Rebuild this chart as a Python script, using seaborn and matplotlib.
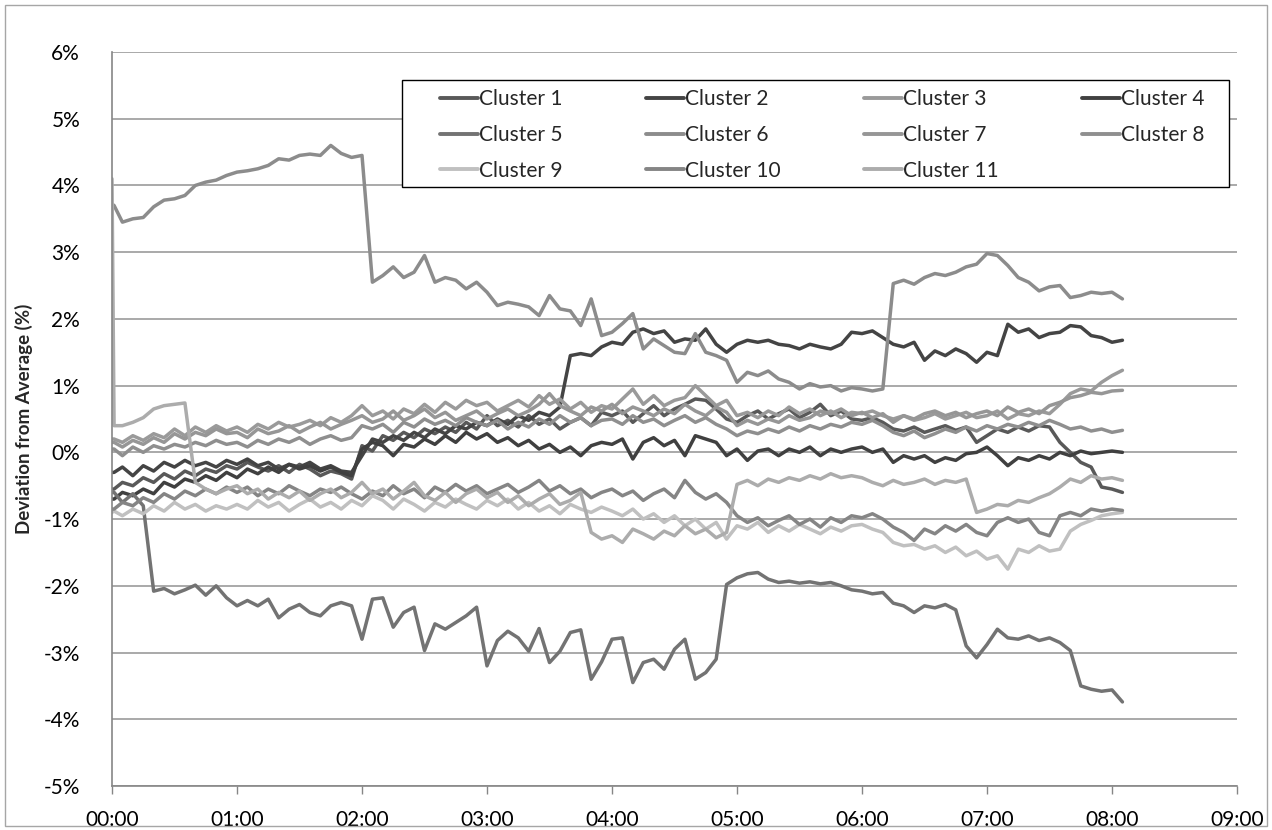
import numpy as np
import pandas as pd
import matplotlib.pyplot as plt
from matplotlib.lines import Line2D
from matplotlib.patches import Rectangle
import seaborn as sns

# sample times in minutes after 00:00 (one row per hour below)
minutes = [0, 1] + list(range(5, 490, 5))

cluster_1 = [
    -0.55, -0.55, -0.45, -0.50, -0.38, -0.45, -0.32, -0.40, -0.28, -0.35, -0.25, -0.30, -0.20,
    -0.25, -0.15, -0.22, -0.28, -0.20, -0.30, -0.18, -0.25, -0.35, -0.28, -0.32, -0.40,
    0.10, 0.02, 0.25, 0.18, 0.30, 0.22, 0.35, 0.28, 0.38, 0.30, 0.45, 0.35,
    0.55, 0.40, 0.48, 0.38, 0.55, 0.42, 0.50, 0.35, 0.45, 0.52, 0.40, 0.60,
    0.55, 0.62, 0.45, 0.58, 0.70, 0.55, 0.65, 0.72, 0.80, 0.78, 0.65, 0.50,
    0.45, 0.55, 0.62, 0.50, 0.58, 0.65, 0.52, 0.60, 0.72, 0.55, 0.62, 0.50,
    0.48, 0.52, 0.45, 0.35, 0.32, 0.38, 0.30, 0.35, 0.40, 0.33, 0.38, 0.15,
    0.25, 0.35, 0.30, 0.38, 0.32, 0.40, 0.38, 0.15, 0.00, -0.15, -0.22, -0.52,
    -0.55, -0.60,
]
cluster_2 = [
    -0.30, -0.30, -0.22, -0.35, -0.20, -0.28, -0.15, -0.22, -0.12, -0.20, -0.15, -0.22, -0.12,
    -0.18, -0.10, -0.20, -0.15, -0.25, -0.18, -0.22, -0.15, -0.25, -0.20, -0.28, -0.30,
    -0.05, 0.20, 0.15, 0.25, 0.18, 0.30, 0.22, 0.35, 0.28, 0.40, 0.35, 0.45,
    0.40, 0.50, 0.42, 0.55, 0.48, 0.60, 0.55, 0.68, 1.45, 1.48, 1.45, 1.58,
    1.65, 1.62, 1.80, 1.85, 1.78, 1.82, 1.65, 1.70, 1.68, 1.85, 1.62, 1.50,
    1.62, 1.68, 1.65, 1.68, 1.62, 1.60, 1.55, 1.62, 1.58, 1.55, 1.62, 1.80,
    1.78, 1.82, 1.72, 1.62, 1.58, 1.65, 1.38, 1.52, 1.45, 1.55, 1.48, 1.35,
    1.50, 1.45, 1.92, 1.80, 1.85, 1.72, 1.78, 1.80, 1.90, 1.88, 1.75, 1.72,
    1.65, 1.68,
]
cluster_3 = [
    0.20, 0.20, 0.15, 0.25, 0.18, 0.28, 0.22, 0.35, 0.25, 0.38, 0.30, 0.40, 0.32,
    0.38, 0.30, 0.42, 0.35, 0.45, 0.38, 0.42, 0.48, 0.40, 0.52, 0.45, 0.55,
    0.70, 0.55, 0.62, 0.50, 0.65, 0.58, 0.72, 0.60, 0.75, 0.65, 0.78, 0.70,
    0.75, 0.62, 0.70, 0.78, 0.68, 0.85, 0.72, 0.80, 0.65, 0.75, 0.60, 0.70,
    0.65, 0.80, 0.95, 0.72, 0.85, 0.70, 0.78, 0.82, 1.00, 0.85, 0.70, 0.78,
    0.55, 0.60, 0.52, 0.62, 0.55, 0.68, 0.58, 0.65, 0.55, 0.62, 0.52, 0.60,
    0.58, 0.62, 0.55, 0.50, 0.55, 0.48, 0.52, 0.58, 0.50, 0.55, 0.60, 0.52,
    0.55, 0.62, 0.50, 0.58, 0.55, 0.62, 0.58, 0.72, 0.88, 0.95, 0.92, 1.05,
    1.15, 1.23,
]
cluster_4 = [
    -0.70, -0.70, -0.60, -0.65, -0.55, -0.62, -0.45, -0.52, -0.40, -0.45, -0.35, -0.42, -0.30,
    -0.38, -0.25, -0.32, -0.22, -0.30, -0.18, -0.25, -0.20, -0.28, -0.22, -0.30, -0.35,
    0.05, 0.15, 0.10, -0.05, 0.12, 0.08, 0.20, 0.12, 0.25, 0.15, 0.30, 0.20,
    0.28, 0.15, 0.22, 0.10, 0.18, 0.05, 0.12, 0.00, 0.08, -0.05, 0.10, 0.15,
    0.12, 0.20, -0.10, 0.15, 0.22, 0.10, 0.18, -0.05, 0.25, 0.20, 0.15, -0.05,
    0.05, -0.12, 0.02, 0.05, -0.05, 0.05, 0.00, 0.08, -0.05, 0.05, 0.00, 0.05,
    0.08, 0.00, 0.05, -0.15, -0.05, -0.10, -0.05, -0.15, -0.08, -0.12, -0.02, 0.00,
    0.08, -0.05, -0.20, -0.08, -0.12, -0.05, -0.10, 0.00, -0.05, 0.02, -0.02, 0.00,
    0.02, 0.00,
]
cluster_5 = [
    -0.60, -0.60, -0.75, -0.62, -0.80, -2.08, -2.04, -2.12, -2.06, -1.99, -2.14, -2.00, -2.18,
    -2.30, -2.22, -2.30, -2.20, -2.48, -2.35, -2.28, -2.40, -2.45, -2.30, -2.25, -2.30,
    -2.80, -2.20, -2.18, -2.62, -2.40, -2.32, -2.97, -2.57, -2.65, -2.55, -2.45, -2.32,
    -3.20, -2.82, -2.68, -2.78, -2.98, -2.64, -3.15, -2.98, -2.70, -2.66, -3.40, -3.14,
    -2.80, -2.78, -3.45, -3.15, -3.10, -3.25, -2.95, -2.80, -3.40, -3.30, -3.10, -1.98,
    -1.88, -1.82, -1.80, -1.90, -1.95, -1.93, -1.96, -1.94, -1.97, -1.95, -2.00, -2.06,
    -2.08, -2.12, -2.10, -2.26, -2.30, -2.40, -2.30, -2.33, -2.28, -2.36, -2.90, -3.08,
    -2.88, -2.65, -2.78, -2.80, -2.75, -2.82, -2.78, -2.85, -2.97, -3.50, -3.55, -3.58,
    -3.56, -3.74,
]
cluster_6 = [
    3.72, 3.70, 3.45, 3.50, 3.52, 3.68, 3.78, 3.80, 3.85, 4.00, 4.05, 4.08, 4.15,
    4.20, 4.22, 4.25, 4.30, 4.40, 4.38, 4.45, 4.47, 4.45, 4.60, 4.48, 4.42,
    4.45, 2.55, 2.65, 2.78, 2.62, 2.70, 2.95, 2.55, 2.62, 2.58, 2.45, 2.55,
    2.40, 2.20, 2.25, 2.22, 2.18, 2.05, 2.35, 2.15, 2.12, 1.90, 2.30, 1.75,
    1.80, 1.93, 2.08, 1.55, 1.70, 1.60, 1.50, 1.48, 1.78, 1.50, 1.45, 1.38,
    1.05, 1.20, 1.15, 1.22, 1.10, 1.05, 0.95, 1.03, 0.98, 1.00, 0.92, 0.97,
    0.95, 0.92, 0.95, 2.53, 2.58, 2.52, 2.62, 2.68, 2.65, 2.70, 2.78, 2.82,
    2.98, 2.95, 2.80, 2.62, 2.55, 2.42, 2.48, 2.50, 2.32, 2.35, 2.40, 2.38,
    2.40, 2.30,
]
cluster_7 = [
    0.15, 0.15, 0.08, 0.18, 0.12, 0.22, 0.15, 0.28, 0.20, 0.30, 0.25, 0.35, 0.28,
    0.30, 0.22, 0.35, 0.28, 0.32, 0.40, 0.30, 0.38, 0.45, 0.35, 0.42, 0.48,
    0.55, 0.45, 0.50, 0.62, 0.48, 0.55, 0.65, 0.52, 0.60, 0.48, 0.55, 0.62,
    0.50, 0.58, 0.65, 0.55, 0.62, 0.72, 0.88, 0.70, 0.62, 0.55, 0.68, 0.62,
    0.72, 0.58, 0.68, 0.62, 0.55, 0.65, 0.58, 0.72, 0.62, 0.55, 0.68, 0.60,
    0.40, 0.48, 0.42, 0.50, 0.45, 0.55, 0.48, 0.52, 0.62, 0.58, 0.65, 0.55,
    0.60, 0.52, 0.58, 0.45, 0.55, 0.50, 0.58, 0.62, 0.55, 0.60, 0.52, 0.58,
    0.62, 0.55, 0.68, 0.60, 0.65, 0.58, 0.70, 0.75, 0.82, 0.85, 0.90, 0.88,
    0.92, 0.93,
]
cluster_8 = [
    0.05, 0.05, -0.05, 0.08, 0.00, 0.10, 0.05, 0.12, 0.08, 0.15, 0.10, 0.18, 0.12,
    0.15, 0.08, 0.18, 0.12, 0.20, 0.15, 0.22, 0.12, 0.20, 0.25, 0.18, 0.22,
    0.40, 0.35, 0.42, 0.30, 0.45, 0.38, 0.50, 0.42, 0.48, 0.40, 0.52, 0.45,
    0.40, 0.48, 0.35, 0.45, 0.38, 0.50, 0.42, 0.55, 0.45, 0.52, 0.40, 0.48,
    0.50, 0.42, 0.55, 0.45, 0.50, 0.40, 0.48, 0.55, 0.45, 0.52, 0.42, 0.35,
    0.25, 0.32, 0.28, 0.35, 0.30, 0.38, 0.32, 0.40, 0.35, 0.42, 0.38, 0.45,
    0.42, 0.48, 0.40, 0.30, 0.25, 0.32, 0.22, 0.28, 0.35, 0.30, 0.38, 0.32,
    0.40, 0.35, 0.42, 0.38, 0.45, 0.40, 0.48, 0.42, 0.35, 0.38, 0.32, 0.35,
    0.30, 0.33,
]
cluster_9 = [
    -0.90, -0.88, -0.95, -0.85, -0.92, -0.80, -0.88, -0.75, -0.85, -0.78, -0.88, -0.80, -0.85,
    -0.78, -0.85, -0.72, -0.82, -0.75, -0.88, -0.78, -0.70, -0.82, -0.75, -0.85, -0.72,
    -0.80, -0.65, -0.72, -0.85, -0.70, -0.78, -0.88, -0.75, -0.82, -0.70, -0.78, -0.85,
    -0.72, -0.80, -0.70, -0.85, -0.75, -0.88, -0.80, -0.92, -0.78, -0.85, -0.90, -0.82,
    -0.88, -0.95, -0.85, -1.00, -0.92, -1.05, -0.95, -1.10, -1.00, -1.15, -1.05, -1.30,
    -1.10, -1.15, -1.05, -1.20, -1.10, -1.18, -1.08, -1.15, -1.22, -1.12, -1.18, -1.10,
    -1.08, -1.15, -1.20, -1.35, -1.40, -1.38, -1.45, -1.40, -1.50, -1.42, -1.55, -1.48,
    -1.60, -1.55, -1.75, -1.45, -1.50, -1.40, -1.48, -1.45, -1.18, -1.08, -1.02, -0.95,
    -0.92, -0.90,
]
cluster_10 = [
    -0.85, -0.85, -0.75, -0.80, -0.68, -0.75, -0.62, -0.70, -0.58, -0.65, -0.55, -0.62, -0.52,
    -0.60, -0.52, -0.65, -0.55, -0.62, -0.50, -0.58, -0.65, -0.55, -0.60, -0.52, -0.62,
    -0.70, -0.58, -0.65, -0.50, -0.62, -0.55, -0.68, -0.52, -0.60, -0.48, -0.58, -0.50,
    -0.62, -0.55, -0.48, -0.60, -0.52, -0.42, -0.58, -0.50, -0.62, -0.55, -0.68, -0.60,
    -0.55, -0.65, -0.58, -0.72, -0.62, -0.55, -0.68, -0.42, -0.60, -0.70, -0.62, -0.75,
    -0.95, -1.05, -0.98, -1.10, -1.02, -0.95, -1.08, -1.00, -1.12, -0.98, -1.05, -0.95,
    -0.98, -0.92, -1.00, -1.12, -1.20, -1.32, -1.15, -1.22, -1.10, -1.18, -1.08, -1.20,
    -1.25, -1.05, -0.98, -1.05, -1.00, -1.20, -1.25, -0.95, -0.90, -0.95, -0.85, -0.88,
    -0.85, -0.87,
]
cluster_11 = [
    4.10, 0.40, 0.40, 0.45, 0.52, 0.65, 0.70, 0.72, 0.74, -0.45, -0.55, -0.62, -0.55,
    -0.50, -0.62, -0.55, -0.70, -0.60, -0.68, -0.58, -0.72, -0.62, -0.55, -0.68, -0.60,
    -0.45, -0.62, -0.55, -0.70, -0.58, -0.45, -0.65, -0.72, -0.60, -0.75, -0.62, -0.55,
    -0.68, -0.60, -0.75, -0.65, -0.80, -0.70, -0.62, -0.78, -0.72, -0.60, -1.20, -1.30,
    -1.25, -1.35, -1.15, -1.22, -1.30, -1.18, -1.25, -1.10, -1.22, -1.15, -1.28, -1.20,
    -0.48, -0.42, -0.50, -0.40, -0.45, -0.38, -0.42, -0.35, -0.40, -0.32, -0.38, -0.35,
    -0.38, -0.45, -0.50, -0.42, -0.48, -0.45, -0.40, -0.48, -0.42, -0.45, -0.40, -0.90,
    -0.85, -0.78, -0.80, -0.72, -0.75, -0.68, -0.62, -0.52, -0.40, -0.45, -0.35, -0.40,
    -0.38, -0.42,
]

names = [f"Cluster {i}" for i in range(1, 12)]
series = [cluster_1, cluster_2, cluster_3, cluster_4, cluster_5, cluster_6,
          cluster_7, cluster_8, cluster_9, cluster_10, cluster_11]
colors = ["#595959", "#444444", "#9a9a9a", "#404040", "#737373", "#8c8c8c",
          "#969696", "#8f8f8f", "#c0c0c0", "#858585", "#acacac"]
y_ticks = [-5, -4, -3, -2, -1, 0, 1, 2, 3, 4, 5, 6]
x_labels = [f"{h:02d}:00" for h in range(10)]

sns.set_theme(style="white")
plt.rcParams["font.family"] = ["Lato", "DejaVu Sans"]

hours = np.array(minutes) / 60
df = pd.concat([pd.DataFrame({"hours": hours, "dev": vals, "cluster": name})
                for name, vals in zip(names, series)], ignore_index=True)

fig = plt.figure(figsize=(12.72, 8.30), dpi=100)
ax = fig.add_axes([112 / 1272, 44 / 830, 1125 / 1272, 734 / 830])

sns.lineplot(data=df, x="hours", y="dev", hue="cluster", hue_order=names,
             palette=dict(zip(names, colors)), estimator=None, sort=False,
             linewidth=2.5, legend=False, ax=ax)

ax.set_xlim(0, 9)
ax.set_ylim(-5, 6)
ax.set_xticks(range(10))
ax.set_xticklabels(x_labels)
ax.set_yticks(y_ticks)
ax.set_yticklabels([f"{v}%" for v in y_ticks])
ax.set_xlabel("")
ax.set_ylabel("Deviation from Average (%)", fontsize=13.5, fontweight="bold")
ax.yaxis.set_label_coords(-0.07, 0.5)

ax.yaxis.grid(True, color="#9b9b9b", linewidth=1.2)
ax.xaxis.grid(False)
ax.set_axisbelow(True)
for side in ["top", "right"]:
    ax.spines[side].set_visible(False)
for side in ["left", "bottom"]:
    ax.spines[side].set_color("#868686")
    ax.spines[side].set_linewidth(1.2)
ax.tick_params(axis="x", bottom=True, direction="out", length=6, width=1,
               color="#868686", pad=11, labelsize=15, labelcolor="black")
ax.tick_params(axis="y", left=False, pad=17, labelsize=15, labelcolor="black")

# legend box (row-wise order like the original)
ax.add_patch(Rectangle((0.258, 0.816), 0.735, 0.146, transform=ax.transAxes,
                       facecolor="white", edgecolor="black", linewidth=1, zorder=4))
order = [0, 4, 8, 1, 5, 9, 2, 6, 10, 3, 7]
handles = [Line2D([], [], color=colors[i], linewidth=2.8) for i in order]
labels = [names[i] for i in order]
leg = ax.legend(handles, labels, ncol=4, loc="upper left", frameon=False,
                bbox_to_anchor=((440 - 112) / 1125, 0.9496), fontsize=15,
                handlelength=1.83, handletextpad=0.05, columnspacing=4.0,
                labelspacing=0.76, borderaxespad=0, borderpad=0)
leg.set_zorder(5)

fig.add_artist(Rectangle((5 / 1272, 4 / 830), 1262 / 1272, 821 / 830,
                         transform=fig.transFigure, fill=False,
                         edgecolor="#a6a6a6", linewidth=1))

plt.savefig("out.png", dpi=100)
plt.close()
